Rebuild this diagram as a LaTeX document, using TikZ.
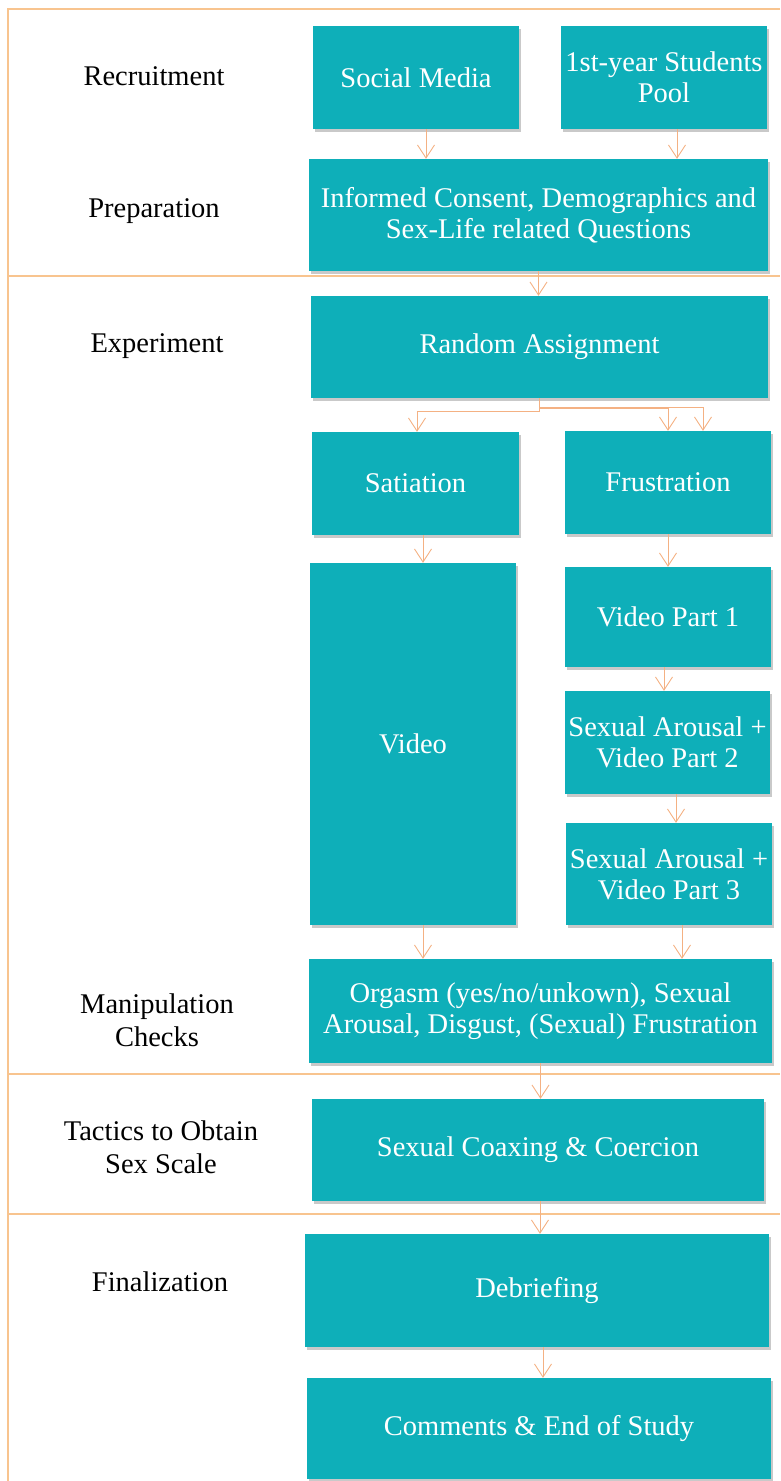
\documentclass[tikz,border=0pt]{standalone}
\usepackage{fontspec}
\setmainfont{Liberation Serif}
\usetikzlibrary{arrows.meta,shadows}
\definecolor{teal1}{HTML}{0EAFB9}
\definecolor{frameor}{HTML}{F8C48F}
\definecolor{arror}{HTML}{F4B183}
\tikzset{
  stepbox/.style={fill=teal1, draw=none, text=white, inner sep=0pt, align=center,
    font=\fontsize{28.5}{31}\selectfont,
    drop shadow={shadow xshift=1.5pt, shadow yshift=-2.5pt, opacity=0.3, fill=black!70}},
  phase/.style={text=black, inner sep=0pt, align=center, font=\fontsize{28.5}{33}\selectfont},
  arr/.style={draw=arror, line width=0.9pt, -{Straight Barb[length=13pt,width=17pt]}},
  frm/.style={draw=frameor, line width=1.3pt}
}
\begin{document}
\begin{tikzpicture}[x=1pt,y=-1pt]
\useasboundingbox (0,0) rectangle (780,1481);
% frame
\draw[frm] (780,9) -- (8,9) -- (8,1481);
\draw[frm] (8,276) -- (780,276);
\draw[frm] (8,1074) -- (780,1074);
\draw[frm] (8,1214) -- (780,1214);
% phase labels
\node[phase] (l1) at (154,76) {Recruitment};
\node[phase] (l2) at (154,211) {Preparation};
\node[phase] (l3) at (157,346) {Experiment};
\node[phase] (l4) at (157,1020) {Manipulation\\Checks};
\node[phase] (l5) at (161,1147) {Tactics to Obtain\\Sex Scale};
\node[phase] (l6) at (160,1282) {Finalization};
% boxes
\node[stepbox, minimum width=206pt, minimum height=103pt] (sm) at (416,77.5) {Social Media};
\node[stepbox, minimum width=206pt, minimum height=103pt] (pool) at (664,77.5) {1st-year Students\\Pool};
\node[stepbox, minimum width=459pt, minimum height=112pt] (inf) at (538.5,215) {Informed Consent, Demographics and\\Sex-Life related Questions};
\node[stepbox, minimum width=457pt, minimum height=102pt] (rand) at (539.5,347) {Random Assignment};
\node[stepbox, minimum width=207pt, minimum height=103pt] (sat) at (415.5,483.5) {Satiation};
\node[stepbox, minimum width=206pt, minimum height=103pt] (fru) at (668,482.5) {Frustration};
\node[stepbox, minimum width=206pt, minimum height=362pt] (vid) at (413,744) {Video};
\node[stepbox, minimum width=206pt, minimum height=100pt] (vp1) at (668,617) {Video Part 1};
\node[stepbox, minimum width=205pt, minimum height=103pt] (vp2) at (667.5,742.5) {Sexual Arousal +\\Video Part 2};
\node[stepbox, minimum width=206pt, minimum height=102pt] (vp3) at (669,874) {Sexual Arousal +\\Video Part 3};
\node[stepbox, minimum width=463pt, minimum height=104pt] (org) at (540.5,1011) {Orgasm (yes/no/unkown), Sexual\\Arousal, Disgust, (Sexual) Frustration};
\node[stepbox, minimum width=452pt, minimum height=102pt] (coax) at (538,1150) {Sexual Coaxing \& Coercion};
\node[stepbox, minimum width=464pt, minimum height=113pt] (deb) at (537,1290.5) {Debriefing};
\node[stepbox, minimum width=464pt, minimum height=101pt] (com) at (539,1428.5) {Comments \& End of Study};
% arrows
\coordinate (a1) at ([xshift=10pt]sm.south);
\draw[arr] (a1) -- (a1 |- inf.north);
\coordinate (a2) at ([xshift=13pt]pool.south);
\draw[arr] (a2) -- (a2 |- inf.north);
\draw[arr] (inf.south) -- (inf.south |- rand.north);
\draw[arr] (rand.south) -- ++(0,13) -| ([xshift=1.5pt]sat.north);
\draw[arr] (rand.south) -- ++(0,10) -| (fru.north);
\draw[arr] (rand.south) -- ++(0,9) -| ([xshift=35pt]fru.north);
\coordinate (a3) at ([xshift=7.5pt]sat.south);
\draw[arr] (a3) -- (a3 |- vid.north);
\draw[arr] (fru.south) -- (fru.south |- vp1.north);
\coordinate (a4) at ([xshift=-4pt]vp1.south);
\draw[arr] (a4) -- (a4 |- vp2.north);
\coordinate (a5) at ([xshift=8.5pt]vp2.south);
\draw[arr] (a5) -- (a5 |- vp3.north);
\coordinate (a6) at ([xshift=10pt]vid.south);
\draw[arr] (a6) -- (a6 |- org.north);
\coordinate (a7) at ([xshift=13pt]vp3.south);
\draw[arr] (a7) -- (a7 |- org.north);
\draw[arr] (org.south) -- (org.south |- coax.north);
\coordinate (a8) at ([xshift=2pt]coax.south);
\draw[arr] (a8) -- (a8 |- deb.north);
\coordinate (a9) at ([xshift=6pt]deb.south);
\draw[arr] (a9) -- (a9 |- com.north);
\end{tikzpicture}
\end{document}
